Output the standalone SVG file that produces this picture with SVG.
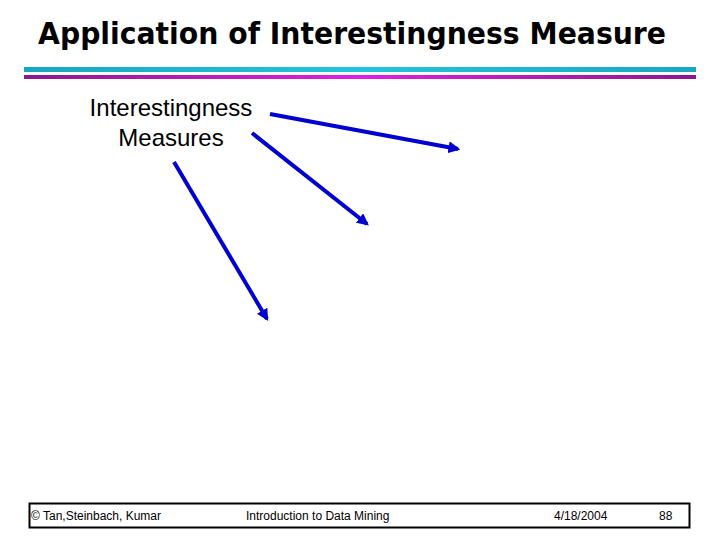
<svg xmlns="http://www.w3.org/2000/svg" width="720" height="540" viewBox="0 0 720 540">
<style>
.t{font-family:"DejaVu Sans","Liberation Sans",sans-serif;font-weight:bold;font-size:30px;fill:#000}
.lbl{font-family:"Liberation Sans",Arial,sans-serif;font-size:24px;fill:#000}
.ft{font-family:"Liberation Sans",Arial,sans-serif;font-size:12px;fill:#000}
.arr{stroke:#0000d0;stroke-width:4;fill:none;marker-end:url(#ah)}
</style>
<defs>
<linearGradient id="cy" x1="0" x2="1" y1="0" y2="0">
<stop offset="0" stop-color="#1aa6c0"/><stop offset="0.5" stop-color="#22c4dc"/><stop offset="1" stop-color="#1aa6c0"/>
</linearGradient>
<linearGradient id="pu" x1="0" x2="1" y1="0" y2="0">
<stop offset="0" stop-color="#8a1a8c"/><stop offset="0.5" stop-color="#e020e0"/><stop offset="1" stop-color="#8a1a8c"/>
</linearGradient>
<marker id="ah" viewBox="0 0 10 10" refX="8" refY="5" markerWidth="3" markerHeight="3" orient="auto" markerUnits="strokeWidth">
<path d="M0,0 L10,5 L0,10 z" fill="#0000d0"/>
</marker>
</defs>
<rect width="720" height="540" fill="#fff"/>
<text class="t" x="38" y="44" textLength="628" lengthAdjust="spacingAndGlyphs">Application of Interestingness Measure</text>
<rect x="24" y="67" width="672" height="5" fill="url(#cy)"/>
<rect x="24" y="75" width="672" height="4" fill="url(#pu)"/>
<g id="measures">
<text class="lbl" x="171" y="116" text-anchor="middle">Interestingness</text>
<text class="lbl" x="171" y="146" text-anchor="middle">Measures</text>
</g>
<g id="connectors">
<line class="arr" x1="270" y1="114" x2="458" y2="149"/>
<line class="arr" x1="252" y1="133" x2="367" y2="224"/>
<line class="arr" x1="174" y1="162" x2="267" y2="319"/>
</g>
<g id="footer">
<rect x="29.5" y="503.5" width="660" height="24" fill="none" stroke="#000" stroke-width="2"/>
<text class="ft" x="31" y="520">© Tan,Steinbach, Kumar</text>
<text class="ft" x="246" y="520">Introduction to Data Mining</text>
<text class="ft" x="554" y="520">4/18/2004</text>
<text class="ft" x="659" y="520">88</text>
</g>
</svg>
